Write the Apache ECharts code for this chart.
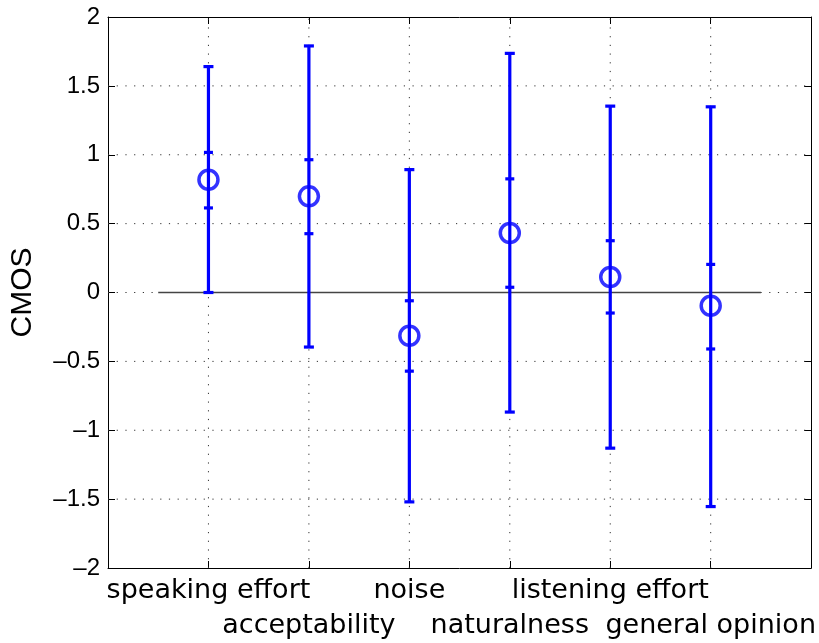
<!DOCTYPE html>
<html>
<head>
<meta charset="utf-8">
<script src="https://cdn.jsdelivr.net/npm/echarts@6/dist/echarts.min.js"></script>
<style>html,body{margin:0;padding:0;background:#fff;}#c{width:819px;height:643px;}</style>
</head>
<body>
<div id="c"></div>
<script>
// ---- data ----
var categories = ['speaking effort', 'acceptability', 'noise', 'naturalness', 'listening effort', 'general opinion'];
var means      = [0.818, 0.698, -0.314, 0.432, 0.113, -0.096];
var outerLow   = [0.0, -0.396, -1.52, -0.868, -1.13, -1.554];
var outerHigh  = [1.64, 1.79, 0.892, 1.736, 1.353, 1.348];
var innerLow   = [0.614, 0.427, -0.571, 0.038, -0.149, -0.41];
var innerHigh  = [1.017, 0.964, -0.06, 0.825, 0.376, 0.204];
var yTicks     = [-2, -1.5, -1, -0.5, 0, 0.5, 1, 1.5, 2];
var zeroLineX  = [0.5, 6.5];

var chart = echarts.init(document.getElementById('c'), null, {renderer: 'canvas'});

var errData = categories.map(function (c, i) {
  return [i + 1, outerLow[i], outerHigh[i], innerLow[i], innerHigh[i]];
});
var meanData = categories.map(function (c, i) { return [i + 1, means[i]]; });

var blue = '#0000ff';

function minusFmt(v) {
  var s = String(v);
  return s.replace('-', '\u2013');
}

var option = {
  animation: false,
  backgroundColor: '#fff',
  grid: { left: 108, top: 17, width: 704, height: 556 },
  xAxis: [{
    type: 'value', min: 0, max: 7, interval: 1,
    axisLine: { show: true, onZero: false, lineStyle: { color: '#000', width: 1 } },
    axisTick: { show: true, inside: true, length: 7, lineStyle: { color: '#000' } },
    splitLine: { show: false },
    axisLabel: {
      show: true, margin: 5, color: '#000',
      fontFamily: 'DejaVu Sans', fontSize: 27, lineHeight: 35,
      formatter: function (v) {
        var i = Math.round(v) - 1;
        if (i < 0 || i >= categories.length) return '';
        return (i % 2 === 0) ? categories[i] : '\n' + categories[i];
      }
    }
  }, {
    type: 'value', min: 0, max: 7, interval: 1, position: 'top',
    axisLine: { show: true, onZero: false, lineStyle: { color: '#000', width: 1 } },
    axisTick: { show: true, inside: true, length: 7, lineStyle: { color: '#000' } },
    axisLabel: { show: false }, splitLine: { show: false }
  }],
  yAxis: [{
    type: 'value', min: -2, max: 2, interval: 0.5,
    name: 'CMOS', nameLocation: 'middle', nameGap: 70, nameRotate: 90,
    nameTextStyle: { fontFamily: 'Liberation Sans', fontSize: 30, color: '#000' },
    axisLine: { show: true, onZero: false, lineStyle: { color: '#000', width: 1 } },
    axisTick: { show: true, inside: true, length: 7, lineStyle: { color: '#000' } },
    splitLine: { show: false },
    axisLabel: { margin: 8, color: '#000', fontFamily: 'Liberation Sans', fontSize: 24, formatter: minusFmt }
  }, {
    type: 'value', min: -2, max: 2, interval: 0.5, position: 'right',
    axisLine: { show: true, onZero: false, lineStyle: { color: '#000', width: 1 } },
    axisTick: { show: true, inside: true, length: 7, lineStyle: { color: '#000' } },
    axisLabel: { show: false }, splitLine: { show: false }
  }],
  series: [
    {
      // vertical dotted grid lines at categories
      type: 'custom', silent: true, z: 1,
      renderItem: function (params, api) {
        var x = api.value(0);
        var p1 = api.coord([x, -2]);
        var p2 = api.coord([x, 2]);
        return { type: 'line', shape: { x1: p1[0], y1: p1[1], x2: p2[0], y2: p2[1] },
                 style: { stroke: '#333', lineWidth: 1, lineDash: [1.2, 7.5] } };
      },
      data: categories.map(function (c, i) { return [i + 1]; })
    },
    {
      // horizontal dotted grid lines
      type: 'custom', silent: true, z: 1,
      renderItem: function (params, api) {
        var y = api.value(0);
        var p1 = api.coord([0, y]);
        var p2 = api.coord([7, y]);
        return { type: 'line', shape: { x1: p1[0], y1: p1[1], x2: p2[0], y2: p2[1] },
                 style: { stroke: '#333', lineWidth: 1, lineDash: [1.2, 7.5] } };
      },
      data: yTicks.slice(1, -1).map(function (v) { return [v]; })
    },
    {
      type: 'line', z: 2, symbol: 'none', silent: true,
      lineStyle: { color: '#444', width: 1.5 },
      data: [[zeroLineX[0], 0], [zeroLineX[1], 0]]
    },
    {
      type: 'custom', z: 3,
      renderItem: function (params, api) {
        var x = api.value(0);
        var lo = api.coord([x, api.value(1)]);
        var hi = api.coord([x, api.value(2)]);
        var ilo = api.coord([x, api.value(3)]);
        var ihi = api.coord([x, api.value(4)]);
        var cw = 5, iw = 4.5;
        var st = { stroke: blue, lineWidth: 3.2 };
        return { type: 'group', children: [
          { type: 'line', shape: { x1: lo[0], y1: lo[1], x2: hi[0], y2: hi[1] }, style: st },
          { type: 'line', shape: { x1: lo[0] - cw, y1: lo[1], x2: lo[0] + cw, y2: lo[1] }, style: st },
          { type: 'line', shape: { x1: hi[0] - cw, y1: hi[1], x2: hi[0] + cw, y2: hi[1] }, style: st },
          { type: 'line', shape: { x1: ilo[0] - iw, y1: ilo[1], x2: ilo[0] + iw, y2: ilo[1] }, style: st },
          { type: 'line', shape: { x1: ihi[0] - iw, y1: ihi[1], x2: ihi[0] + iw, y2: ihi[1] }, style: st }
        ]};
      },
      data: errData
    },
    {
      type: 'scatter', z: 4, symbol: 'circle', symbolSize: 19,
      itemStyle: { color: 'rgba(0,0,0,0)', borderColor: blue, borderWidth: 3.5 },
      data: meanData
    }
  ]
};
chart.setOption(option);
</script>
</body>
</html>
